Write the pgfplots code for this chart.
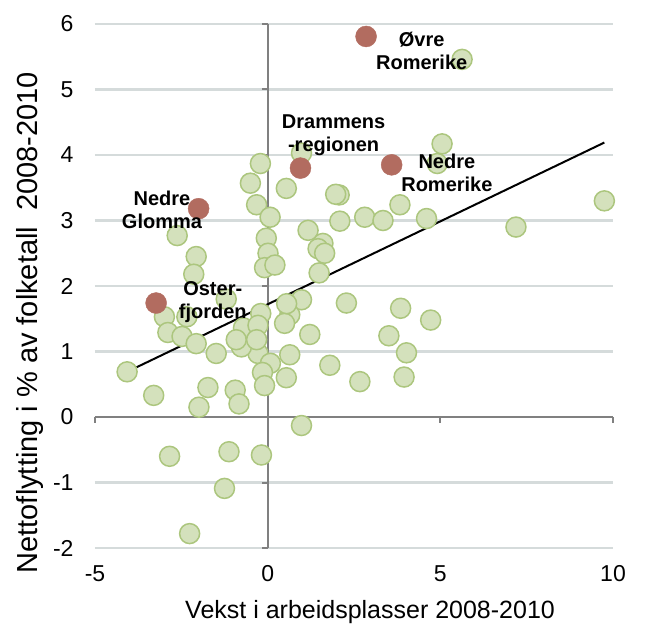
\documentclass[border=0pt]{standalone}
\usepackage{pgfplots}
\pgfplotsset{compat=1.18}
\usepackage{fontspec}
\setmainfont{Liberation Sans}
\definecolor{gfill}{RGB}{212,225,188}
\definecolor{gedge}{RGB}{172,198,126}
\definecolor{rfill}{RGB}{178,108,96}
\definecolor{gridcol}{RGB}{213,219,219}
\definecolor{axc}{RGB}{128,128,128}
\begin{document}
\begin{tikzpicture}
\begin{axis}[
 set layers=standard,
 scale only axis, width=518pt, height=524pt,
 xmin=-5,xmax=10,ymin=-2,ymax=6,
 axis lines=left, axis line style={draw=none}, major tick length=0pt,
 xtick={-5,0,5,10}, ytick={-2,-1,0,1,2,3,4,5,6},
 tick label style={font=\fontsize{23}{27}\selectfont},
 /pgf/number format/assume math mode=true,
 xticklabel style={yshift=-14pt},
 yticklabel style={xshift=-18pt},
 xlabel={Vekst i arbeidsplasser 2008-2010},
 ylabel={Nettoflytting i \% av folketall\ \ 2008-2010},
 x label style={font=\fontsize{25}{30}\selectfont, at={(axis description cs:0.531,-0.122)},anchor=center},
 y label style={font=\fontsize{29}{34}\selectfont, at={(axis description cs:-0.125,0.43)},anchor=center},
 clip=false,
]
\addplot[draw=gridcol, line width=2.2pt, forget plot] coordinates {(-5,-2) (10,-2)};
\addplot[draw=gridcol, line width=2.2pt, forget plot] coordinates {(-5,-1) (10,-1)};
\addplot[draw=gridcol, line width=2.2pt, forget plot] coordinates {(-5,1) (10,1)};
\addplot[draw=gridcol, line width=2.2pt, forget plot] coordinates {(-5,2) (10,2)};
\addplot[draw=gridcol, line width=2.2pt, forget plot] coordinates {(-5,3) (10,3)};
\addplot[draw=gridcol, line width=2.2pt, forget plot] coordinates {(-5,4) (10,4)};
\addplot[draw=gridcol, line width=2.2pt, forget plot] coordinates {(-5,5) (10,5)};
\addplot[draw=gridcol, line width=2.2pt, forget plot] coordinates {(-5,6) (10,6)};
\addplot[draw=axc, line width=2pt, forget plot, unbounded coords=jump] coordinates {
(0,-2) (0,6) (nan,nan) (-5,0) (10,0) (nan,nan)
(0,-2) (-0.174,-2) (nan,nan) (0,-1) (-0.174,-1) (nan,nan) (0,0) (-0.174,0) (nan,nan)
(0,1) (-0.174,1) (nan,nan) (0,2) (-0.174,2) (nan,nan) (0,3) (-0.174,3) (nan,nan)
(0,4) (-0.174,4) (nan,nan) (0,5) (-0.174,5) (nan,nan) (0,6) (-0.174,6) (nan,nan)
(-5,0) (-5,-0.092) (nan,nan) (5,0) (5,-0.092) (nan,nan) (10,0) (10,-0.092)
};
\addplot[only marks, mark=*, mark size=10pt, mark options={fill=gfill, draw=gedge, line width=1.5pt}] coordinates {
(5.63,5.46) (5.05,4.17) (4.91,3.87) (2.07,3.39) (1.97,3.40) (3.83,3.24) (2.09,2.99) (2.81,3.05) (3.34,3.00) (4.60,3.03)
(7.19,2.90) (9.75,3.30) (-0.21,3.87) (-0.50,3.57) (0.54,3.49) (0.98,4.03) (-0.32,3.24) (0.07,3.05) (-0.04,2.73) (0.01,2.50)
(-0.09,2.28) (0.21,2.32) (1.17,2.85) (1.60,2.65) (1.46,2.57) (1.65,2.50) (1.49,2.20) (0.98,1.79) (0.64,1.56) (0.49,1.43)
(0.55,1.73) (2.28,1.74) (3.85,1.66) (4.72,1.48) (3.51,1.24) (4.02,0.98) (3.95,0.61) (2.67,0.54) (1.80,0.79) (1.22,1.26)
(0.64,0.95) (0.54,0.60) (0.98,-0.13) (-0.20,1.58) (-0.70,1.36) (-0.28,1.40) (-0.28,0.97) (0.08,0.82) (-0.15,0.68) (-0.09,0.48)
(-0.76,1.07) (-0.91,1.18) (-0.32,1.18) (-1.20,1.80) (-1.49,0.97) (-1.73,0.45) (-0.94,0.41) (-0.83,0.20) (-1.99,0.15) (-3.30,0.33)
(-4.07,0.69) (-2.84,-0.60) (-1.12,-0.53) (-0.18,-0.58) (-1.25,-1.09) (-2.26,-1.78) (-2.62,2.77) (-2.07,2.45) (-2.14,2.18) (-2.99,1.53)
(-2.89,1.29) (-2.48,1.23) (-2.34,1.53) (-2.07,1.12)
};
\addplot[only marks, mark=*, mark size=10.5pt, mark options={fill=rfill, draw=rfill}] coordinates {
(2.85,5.81) (0.95,3.80) (3.59,3.85) (-2.00,3.18) (-3.23,1.74)
};
\addplot[black, line width=2pt] coordinates {(-4.07,0.69) (9.75,4.19)};
\begin{pgfonlayer}{axis foreground}
\begin{scope}[every node/.style={font=\bfseries\fontsize{20}{23}\selectfont, align=center}]
\node at (axis cs:4.46,5.59) {Øvre\\Romerike};
\node at (axis cs:1.91,4.30) {Drammens\\-regionen};
\node at (axis cs:5.19,3.73) {Nedre\\Romerike};
\node at (axis cs:-3.06,3.17) {Nedre\\Glomma};
\node at (axis cs:-1.59,1.76) {Oster-\\fjorden};
\end{scope}
\end{pgfonlayer}
\end{axis}
\pgfresetboundingbox
\path (-95pt,-82pt) rectangle (550pt,548pt);
\end{tikzpicture}
\end{document}
